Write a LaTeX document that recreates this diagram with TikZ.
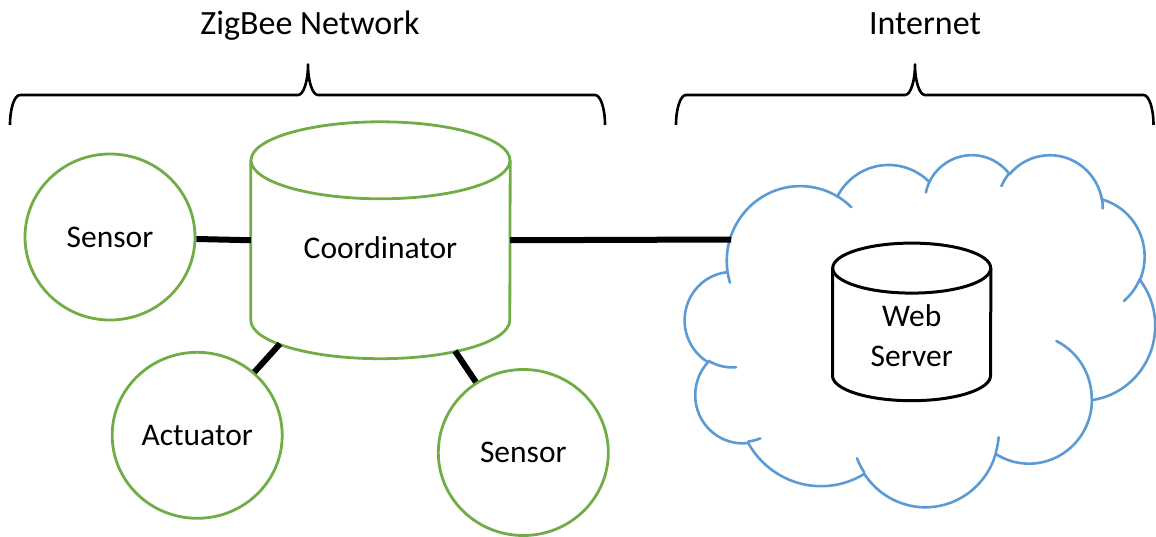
\documentclass[tikz,border=0pt]{standalone}
\usepackage{fontspec}
\setmainfont{Carlito}
\usetikzlibrary{shapes.geometric}
\definecolor{zgreen}{HTML}{70AD47}
\definecolor{cblue}{HTML}{5B9BD5}
% visual-angle elliptical arc (DrawingML arcTo convention), y axis pointing down
\newcommand\cloudarc[6]{%
  \pgfmathsetmacro\cta{atan2(#2*sin(#4),#3*cos(#4))}%
  \pgfmathsetmacro\ctb{atan2(#2*sin(#4+#5),#3*cos(#4+#5))}%
  \pgfmathsetmacro\ctd{mod(\ctb-\cta+720,360)}%
  \draw[cloudline] (#1) arc[start angle=\cta, delta angle=\ctd, x radius=#2, y radius=#3] coordinate (#6);%
}
\tikzset{
  bracestyle/.style={line width=2.6pt, line join=round},
  devnode/.style={ellipse, draw=zgreen, line width=2.8pt, minimum width=170pt, minimum height=166pt, inner sep=0pt, font=\fontsize{31.5}{38}\selectfont},
  linkline/.style={line width=6pt},
  cloudline/.style={draw=cblue, line width=2.6pt, line cap=round},
  canline/.style={line width=2.8pt, draw=zgreen},
  webline/.style={line width=3pt, draw=black},
  bodybox/.style={rectangle, draw=none, inner sep=0pt},
  labeltext/.style={font=\fontsize{31.5}{40}\selectfont},
  titletext/.style={font=\fontsize{34}{40}\selectfont, anchor=base},
}
\begin{document}
\begin{tikzpicture}[x=1pt, y=-1pt]
\useasboundingbox (0,0) rectangle (1156,537);

% titles
\node[titletext] (ztitle) at (310,35) {ZigBee Network};
\node[titletext] (ititle) at (925,35) {Internet};

% braces
\draw[bracestyle] (10,125) arc[start angle=180, end angle=270, x radius=10, y radius=30]
  -- (298,95) arc[start angle=90, end angle=0, x radius=10, y radius=30.5]
  arc[start angle=180, end angle=90, x radius=10, y radius=30.5]
  -- (595,95) arc[start angle=270, end angle=360, x radius=10, y radius=30];
\draw[bracestyle] (676,125) arc[start angle=180, end angle=270, x radius=10, y radius=30]
  -- (905,95) arc[start angle=90, end angle=0, x radius=10, y radius=30.5]
  arc[start angle=180, end angle=90, x radius=10, y radius=30.5]
  -- (1143.5,95) arc[start angle=270, end angle=360, x radius=10, y radius=30];

% coordinator (can shape)
\node[bodybox, minimum width=259pt, minimum height=159.5pt] (coord) at (380.5,240.25) {};
\draw[canline] (coord.north) ellipse[x radius=129.5, y radius=38.5];
\draw[canline] (coord.north west) -- (coord.south west)
  arc[start angle=180, end angle=0, x radius=129.5, y radius=38.5] -- (coord.north east);
\node[labeltext] (coordtext) at (380.5,248) {Coordinator};
\coordinate (csw) at (280,343.8);
\coordinate (cse) at (455,351);

% end devices
\node[devnode] (s1) at (110,237) {Sensor};
\node[devnode] (act) at (197.2,435.3) {Actuator};
\node[devnode] (s2) at (523.3,452.5) {Sensor};

% cloud
\begin{scope}[shift={(685,154)}, x=1.08796pt, y=-0.81481pt]
\coordinate (k0) at (39.00,143.70);
\cloudarc{k0}{67.53}{91.90}{-190.4875}{123.7805}{k1}
\cloudarc{k1}{53.33}{72.67}{-144.1024}{89.9452}{k2}
\cloudarc{k2}{43.65}{59.45}{-145.8079}{99.7230}{k3}
\cloudarc{k3}{48.57}{65.95}{-130.9861}{117.2417}{k4}
\cloudarc{k4}{53.33}{72.73}{-78.7089}{109.0269}{k5}
\cloudarc{k5}{67.75}{92.20}{-46.2673}{130.2690}{k6}
\cloudarc{k6}{57.85}{78.67}{0.6250}{114.0333}{k7}
\cloudarc{k7}{67.52}{92.15}{22.4516}{115.1726}{k8}
\cloudarc{k8}{77.20}{105.43}{66.2426}{75.7110}{k9}
\cloudarc{k9}{43.60}{59.18}{-274.9421}{146.7356}{k10}
\cloudarc{k10}{43.45}{59.45}{-246.8285}{152.5189}{k11}
% inner curls
\cloudarc{46.93,261.77}{43.45}{59.45}{86.7420}{26.4295}{i1}
\cloudarc{69.28,348.99}{43.60}{59.18}{73.6105}{11.4475}{i2}
\cloudarc{164.78,390.90}{67.52}{92.15}{137.6242}{14.0811}{i3}
\cloudarc{288.27,347.51}{67.52}{92.15}{6.4533}{15.9984}{i4}
\cloudarc{341.29,229.54}{57.85}{78.67}{-70.2924}{70.9174}{i5}
\cloudarc{417.98,153.54}{53.33}{72.73}{30.3180}{27.7515}{i6}
\cloudarc{383.24,54.26}{48.57}{65.95}{-13.7443}{14.8589}{i7}
\cloudarc{290.78,39.52}{48.57}{65.95}{-149.1815}{18.1954}{i8}
\cloudarc{221.41,47.20}{43.65}{59.45}{-163.4943}{17.6864}{i9}
\cloudarc{140.00,51.92}{67.53}{91.90}{-66.7070}{12.3194}{i10}
\cloudarc{41.27,157.89}{67.53}{91.90}{157.6544}{11.8582}{i11}
\end{scope}
\coordinate (cloudin) at (731,239.5);

% web server (can shape)
\node[bodybox, minimum width=158pt, minimum height=107.2pt] (web) at (911.7,321.9) {};
\draw[webline] (web.north) ellipse[x radius=79, y radius=25];
\draw[webline] (web.north west) -- (web.south west)
  arc[start angle=180, end angle=0, x radius=79, y radius=25] -- (web.north east);
\node[labeltext, anchor=base] (webtext1) at (911.7,326.7) {Web};
\node[labeltext, anchor=base] (webtext2) at (911.7,366.7) {Server};

% connectors
\draw[linkline] (s1) -- (coord.west);
\draw[linkline] (act) -- (csw);
\draw[linkline] (s2) -- (cse);
\draw[linkline] (coord.east) -- (cloudin);
\end{tikzpicture}
\end{document}
